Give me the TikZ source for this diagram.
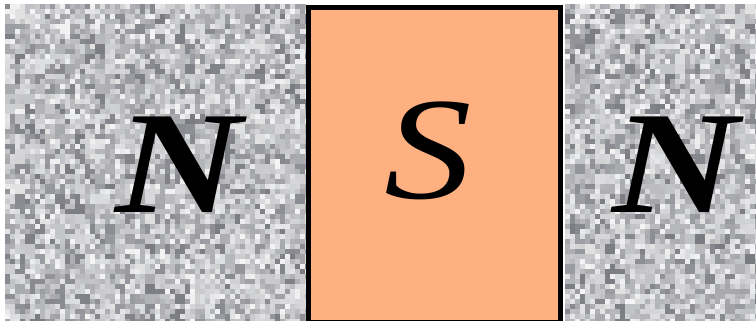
\documentclass[tikz,border=0pt]{standalone}
\usepackage{fontspec}
\newfontfamily\polefont{Liberation Serif}[FakeStretch=1.2]
\usepackage{xcolor}
\usepackage{tikz}
\usetikzlibrary{positioning}

\definecolor{southfill}{RGB}{255,176,128}
\definecolor{noiseink}{RGB}{38,40,50}

\tikzset{
  pole/.style={inner sep=0pt, font=\polefont\fontsize{146}{146}\selectfont\itshape},
  npole/.style={pole, font=\polefont\fontsize{146}{146}\selectfont\bfseries\itshape},
}

\begin{document}
\begin{tikzpicture}[x=1pt,y=-1pt]

\useasboundingbox (0,0) rectangle (756,321);
\clip (0,0) rectangle (756,321);
\pgfmathsetseed{17}

% left N panel (grainy): coarse blobs, then some fine grain on top
\begin{scope}
\clip (5,4) rectangle (306,321);
\foreach \i in {0,...,30}{
  \foreach \j in {0,...,31}{
    \pgfmathsetmacro{\g}{int(14+48*rnd)}
    \fill[noiseink!\g!white] (5+10*\i,4+10*\j) rectangle ++(10,10);
  }
}
\foreach \i in {0,...,60}{
  \foreach \j in {0,...,63}{
    \pgfmathsetmacro{\g}{int(5+75*rnd)}
    \ifdim\g pt<42pt
      \fill[noiseink!\g!white] (5+5*\i,4+5*\j) rectangle ++(5,5);
    \fi
  }
}
\end{scope}

% right N panel (grainy)
\begin{scope}
\clip (565,4) rectangle (756,321);
\foreach \i in {0,...,19}{
  \foreach \j in {0,...,31}{
    \pgfmathsetmacro{\g}{int(14+48*rnd)}
    \fill[noiseink!\g!white] (565+10*\i,4+10*\j) rectangle ++(10,10);
  }
}
\foreach \i in {0,...,38}{
  \foreach \j in {0,...,63}{
    \pgfmathsetmacro{\g}{int(5+75*rnd)}
    \ifdim\g pt<42pt
      \fill[noiseink!\g!white] (565+5*\i,4+5*\j) rectangle ++(5,5);
    \fi
  }
}
\end{scope}

% S block
\draw[line width=5pt, fill=southfill] (308.5,7.5) rectangle (560,322);

% labels
\node[npole] (nleft) at (179,165) {N};
\node[pole] (south) at (428,151) {S};
\node[npole] (nright) at (676,165) {N};

\end{tikzpicture}
\end{document}
